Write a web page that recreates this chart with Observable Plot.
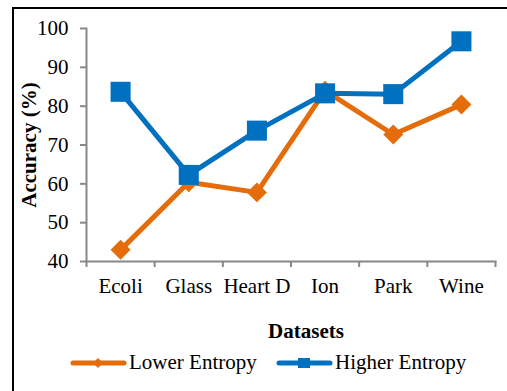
<!DOCTYPE html>
<html>
<head>
<meta charset="utf-8">
<script src="https://cdn.jsdelivr.net/npm/d3@7"></script>
<script src="https://cdn.jsdelivr.net/npm/@observablehq/plot@0.6"></script>
<style>
  html, body { margin: 0; padding: 0; background: #fff; }
  body { width: 507px; height: 391px; position: relative; overflow: hidden; font-family: "Liberation Serif", "Times New Roman", serif; }
  #frame { position: absolute; left: 12px; top: 7px; width: 500px; height: 400px; border-left: 2px solid #000; border-top: 2px solid #000; box-sizing: border-box; }
  #chart { position: absolute; left: 0; top: 0; }
  #xtitle { position: absolute; left: 306px; top: 319px; transform: translateX(-50%); font-weight: bold; font-size: 21px; color: #000; white-space: nowrap; }
  .leg { position: absolute; top: 350px; display: flex; align-items: center; font-size: 21px; color: #000; white-space: nowrap; }
  .leg svg { display: block; margin-right: 2px; }
</style>
</head>
<body>
<div id="frame"></div>
<div id="chart"></div>
<div id="xtitle">Datasets</div>
<div id="legend"></div>
<script>
const categories = ["Ecoli", "Glass", "Heart D", "Ion", "Park", "Wine"];
const lowerEntropy = [43.0, 60.4, 57.8, 84.0, 72.7, 80.4];
const higherEntropy = [83.7, 62.3, 73.7, 83.3, 83.1, 96.7];
const seriesNames = ["Lower Entropy", "Higher Entropy"];
const seriesColors = ["#E46C0A", "#0070C0"];
const yTicks = [40, 50, 60, 70, 80, 90, 100];

const rows = (vals, s) => vals.map((v, i) => ({i: i + 0.5, cat: categories[i], value: v, series: s}));
const lowRows = rows(lowerEntropy, seriesNames[0]);
const highRows = rows(higherEntropy, seriesNames[1]);

const axisColor = "#888888";
const chart = Plot.plot({
  width: 507,
  height: 300,
  marginLeft: 86,
  marginRight: 12,
  marginTop: 28,
  marginBottom: 39,
  style: {fontFamily: "'Liberation Serif', 'Times New Roman', serif", fontSize: "21px", background: "transparent", color: "#000", overflow: "visible"},
  x: {domain: [0, categories.length]},
  y: {domain: [40, 100]},
  marks: [
    Plot.frame({anchor: "left", stroke: axisColor, strokeWidth: 2}),
    Plot.frame({anchor: "bottom", stroke: axisColor, strokeWidth: 2}),
    Plot.axisY({ticks: yTicks, tickSize: 6, tickPadding: 12, stroke: axisColor, strokeWidth: 2, fill: "#000",
      label: "Accuracy (%)", labelAnchor: "center", labelArrow: "none", labelOffset: 65, fontWeight: "normal"}),
    Plot.axisX({ticks: d3.range(categories.length + 1), tickSize: 6, stroke: axisColor, strokeWidth: 2, tickFormat: () => "", label: null}),
    Plot.axisX({ticks: categories.map((c, i) => i + 0.5), tickFormat: d => categories[Math.floor(d)], tickSize: 0, tickPadding: 17, fill: "#000", label: null}),
    Plot.line(lowRows, {x: "i", y: "value", stroke: seriesColors[0], strokeWidth: 5, strokeLinejoin: "miter"}),
    Plot.dot(lowRows, {x: "i", y: "value", symbol: "diamond2", r: 9, fill: seriesColors[0], stroke: "none"}),
    Plot.line(highRows, {x: "i", y: "value", stroke: seriesColors[1], strokeWidth: 5, strokeLinejoin: "miter"}),
    Plot.dot(highRows, {x: "i", y: "value", symbol: "square", r: 11.3, fill: seriesColors[1], stroke: "none"})
  ]
});
document.getElementById("chart").appendChild(chart);
// bold y-axis title
chart.querySelectorAll("text").forEach(t => { if (t.textContent === "Accuracy (%)") t.setAttribute("font-weight", "bold"); });

// legend
const legendX = [70, 276];
const legend = document.getElementById("legend");
seriesNames.forEach((name, k) => {
  const item = document.createElement("div");
  item.className = "leg";
  item.style.left = legendX[k] + "px";
  const ns = "http://www.w3.org/2000/svg";
  const svg = document.createElementNS(ns, "svg");
  svg.setAttribute("width", 57); svg.setAttribute("height", 24);
  const ln = document.createElementNS(ns, "line");
  ln.setAttribute("x1", 3); ln.setAttribute("x2", 54); ln.setAttribute("y1", 12); ln.setAttribute("y2", 12);
  ln.setAttribute("stroke", seriesColors[k]); ln.setAttribute("stroke-width", 5); ln.setAttribute("stroke-linecap", "round");
  svg.appendChild(ln);
  const mk = document.createElementNS(ns, "path");
  mk.setAttribute("d", k === 0 ? "M28,7 L33,12 L28,17 L23,12 Z" : "M22,7 H34 V17 H22 Z");
  mk.setAttribute("fill", seriesColors[k]);
  svg.appendChild(mk);
  item.appendChild(svg);
  const tx = document.createElement("span");
  tx.textContent = name;
  item.appendChild(tx);
  legend.appendChild(item);
});
</script>
</body>
</html>
